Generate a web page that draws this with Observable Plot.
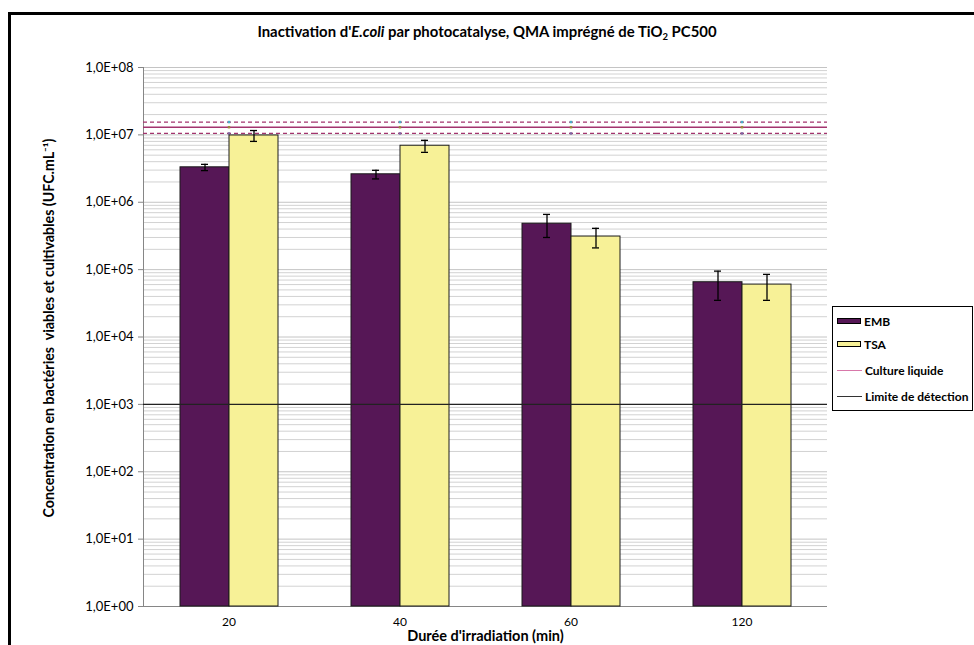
<!DOCTYPE html>
<html><head><meta charset="utf-8">
<script src="https://cdn.jsdelivr.net/npm/d3@7"></script>
<script src="https://cdn.jsdelivr.net/npm/@observablehq/plot@0.6"></script>
<style>
body{margin:0;overflow:hidden;background:#fff;font-family:Lato,"Open Sans",sans-serif;}
#wrap{position:relative;width:974px;height:645px;overflow:hidden;}
#border{position:absolute;left:8px;top:12px;width:1100px;height:800px;border:3px solid #000;box-sizing:border-box;pointer-events:none;}
#title{position:absolute;top:22px;left:0;width:974px;text-align:center;font-weight:bold;font-size:14.9px;color:#000;}
#title sub{font-size:9.5px;vertical-align:-3px;line-height:0;}
#chart{position:absolute;left:0;top:0;}
#legend{position:absolute;left:832px;top:306px;width:141px;height:105px;border:1px solid #000;box-sizing:border-box;background:#fff;font-weight:bold;font-size:12px;}
.item{position:absolute;left:4px;display:flex;align-items:center;height:14px;}
.sw{width:24px;height:6px;border:1px solid #000;box-sizing:border-box;margin-right:3px;}
.ln{width:25px;height:0;margin-right:3px;}
</style></head>
<body>
<div id="wrap">
  <div id="chart"></div>
  <div id="title">Inactivation d'<i>E.coli</i> par photocatalyse, QMA imprégné de TiO<sub>2</sub> PC500</div>
  <div id="legend"></div>
  <div id="border"></div>
</div>
<script>
// ---- data ----
const durations = ["20", "40", "60", "120"];
const seriesNames = ["EMB", "TSA"];
const seriesColors = ["#561756", "#f7f197"];
const embValues = [3.3e6, 2.6e6, 4.8e5, 6.5e4];
const embErrors = [0.35e6, 0.38e6, 1.8e5, 3.0e4];
const tsaValues = [9.8e6, 6.9e6, 3.1e5, 6.0e4];
const tsaErrors = [1.8e6, 1.4e6, 1.0e5, 2.5e4];
const cultureLiquide = 1.3e7;
const cultureErreur = 2.5e6;
const limiteDetection = 1e3;
const yTicks = [1e0, 1e1, 1e2, 1e3, 1e4, 1e5, 1e6, 1e7, 1e8];
const minorMultipliers = [2, 3, 4, 5, 6, 7, 8, 9];
const yLabel = "Concentration en bactéries  viables et cultivables (UFC.mL\u207B\u00B9)";
const xLabel = "Durée d'irradiation (min)";
const legendLabels = ["EMB", "TSA", "Culture liquide", "Limite de détection"];

// ---- build tables ----
const rows = [];
durations.forEach((d, i) => {
  rows.push({cat: d, series: "EMB", value: embValues[i], err: embErrors[i]});
  rows.push({cat: d, series: "TSA", value: tsaValues[i], err: tsaErrors[i]});
});
const minorTicks = [];
yTicks.slice(0, -1).forEach(t => minorMultipliers.forEach(m => minorTicks.push(t * m)));
const refMarks = [
  {v: cultureLiquide + cultureErreur, c: "#4bacc6"},
  {v: cultureLiquide, c: "#9b8a3a"},
  {v: cultureLiquide - cultureErreur, c: "#8064a2"}
];
const fmt = d => "1,0E+" + String(Math.round(Math.log10(d))).padStart(2, "0");

const chart = Plot.plot({
  width: 974, height: 645,
  marginLeft: 141, marginRight: 146, marginTop: 67, marginBottom: 39,
  style: {fontFamily: "Lato, 'Open Sans', sans-serif", background: "transparent", color: "#000"},
  fx: {domain: durations, padding: 0, label: null, axis: null},
  x: {domain: seriesNames, paddingInner: 0, paddingOuter: 0.72, axis: null},
  y: {type: "log", domain: [1, 1e8], axis: null},
  color: {domain: seriesNames, range: seriesColors},
  marks: [
    Plot.ruleY(minorTicks, {stroke: "#d2d2d2", strokeWidth: 1}),
    Plot.ruleY(yTicks, {stroke: "#c4c4c4", strokeWidth: 1}),
    Plot.ruleY([1], {stroke: "#868686", strokeWidth: 1}),
    Plot.frame({anchor: "left", stroke: "#868686", fx: [durations[0]]}),
    Plot.axisY({ticks: yTicks, tickFormat: fmt, tickSize: 5, tickPadding: 5, fontSize: 13, stroke: "#868686", fill: "#000", label: null}),
    Plot.axisFx({anchor: "bottom", tickSize: 0, tickPadding: 11, fontSize: 12, label: null}),
    Plot.text([yLabel], {fx: [durations[0]], frameAnchor: "left", textAnchor: "middle", rotate: -90, dx: -94, dy: -9, fontSize: 14.2, fontWeight: "bold", fill: "#000"}),
    Plot.text([xLabel], {fx: [durations[1]], frameAnchor: "bottom-right", textAnchor: "middle", dy: 34, fontSize: 14.5, fontWeight: "bold", fill: "#000"}),
    Plot.ruleY([cultureLiquide - cultureErreur, cultureLiquide + cultureErreur], {stroke: "#a3346e", strokeWidth: 1.3, strokeDasharray: "4,3"}),
    Plot.ruleY([cultureLiquide], {stroke: "#a3346e", strokeWidth: 1.5}),
    Plot.dot(refMarks, {y: "v", fill: "c", symbol: "square", r: 1.4}),
    Plot.barY(rows, {fx: "cat", x: "series", y1: () => 1, y2: "value", fill: "series", stroke: "#1a1a1a", strokeWidth: 1}),
    Plot.ruleY([limiteDetection], {stroke: "#222", strokeWidth: 1.2}),
    Plot.ruleX(rows, {fx: "cat", x: "series", y1: d => d.value - d.err, y2: d => d.value + d.err, stroke: "#000", strokeWidth: 1.3}),
    Plot.tickY(rows, {fx: "cat", x: "series", y: d => d.value - d.err, stroke: "#000", strokeWidth: 1.3, insetLeft: 21, insetRight: 21}),
    Plot.tickY(rows, {fx: "cat", x: "series", y: d => d.value + d.err, stroke: "#000", strokeWidth: 1.3, insetLeft: 21, insetRight: 21})
  ]
});
document.getElementById("chart").appendChild(chart);

// ---- legend ----
const legend = document.getElementById("legend");
const tops = [7, 30, 56, 82];
legendLabels.forEach((lab, i) => {
  const it = document.createElement("div");
  it.className = "item";
  it.style.top = tops[i] + "px";
  const sw = document.createElement("div");
  if (i < 2) {
    sw.className = "sw";
    sw.style.background = seriesColors[i];
  } else {
    sw.className = "ln";
    sw.style.borderTop = i === 2 ? "1.5px solid #d878aa" : "1.5px solid #333";
  }
  it.appendChild(sw);
  const t = document.createElement("span");
  t.textContent = lab;
  it.appendChild(t);
  legend.appendChild(it);
});
</script>
</body></html>
